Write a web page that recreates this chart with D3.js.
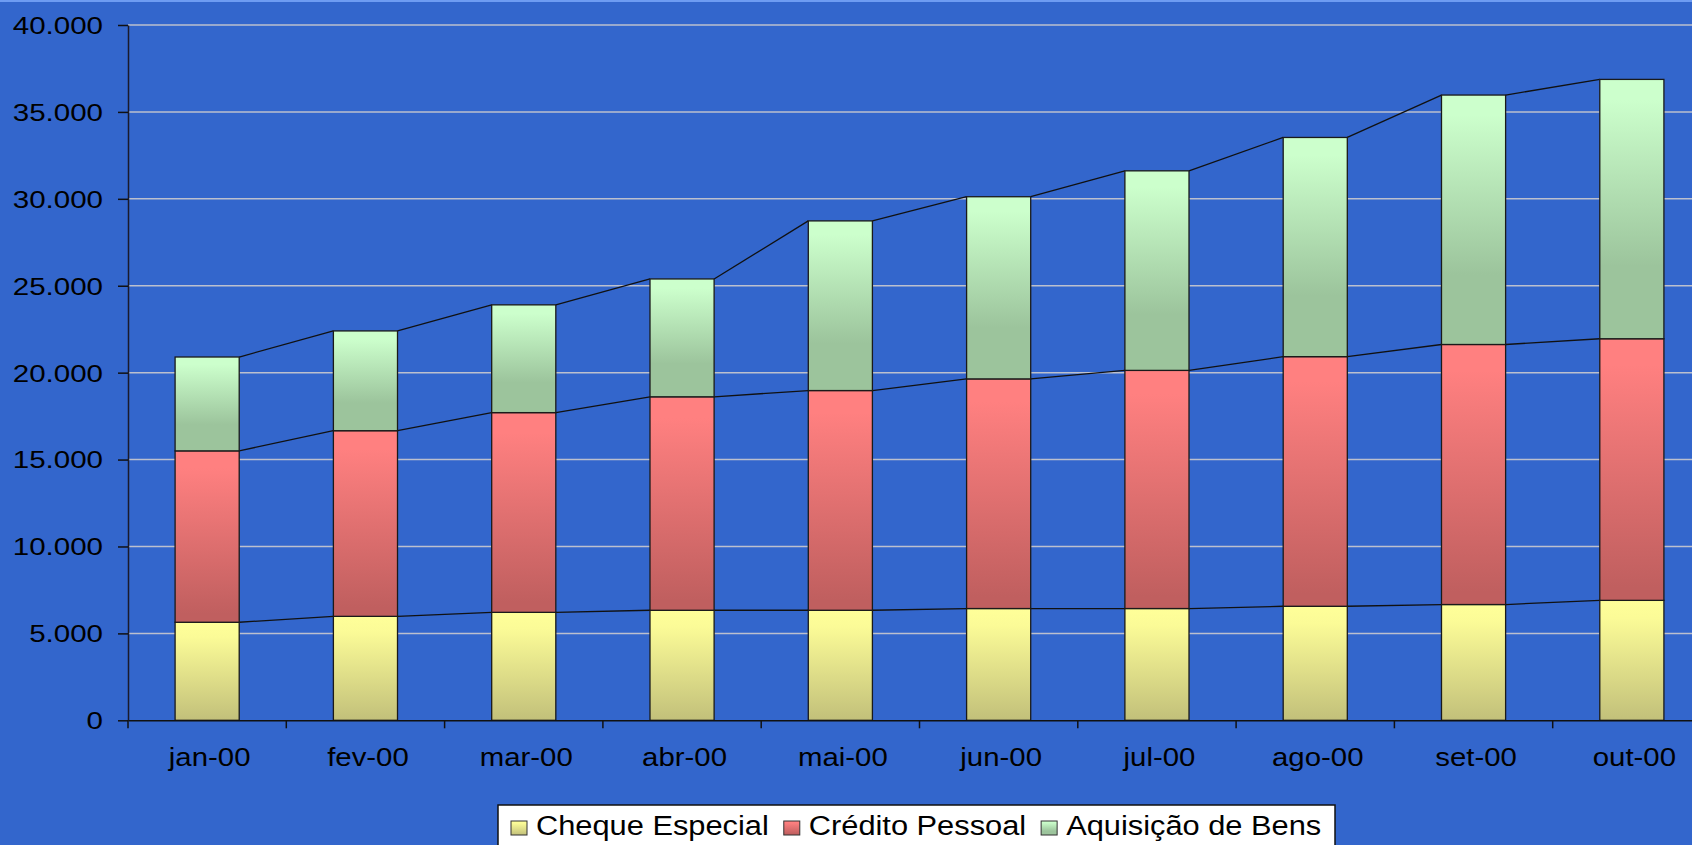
<!DOCTYPE html>
<html>
<head>
<meta charset="utf-8">
<script src="https://cdn.jsdelivr.net/npm/d3@7"></script>
<style>
  html, body { margin: 0; padding: 0; background: #3366CC; overflow: hidden; }
  svg { display: block; }
  text { font-family: "Liberation Sans", Arial, sans-serif; fill: #000; }
</style>
</head>
<body>
<svg id="chart" width="1692" height="845"></svg>
<script>
// ---- data ----
const categories = ["jan-00","fev-00","mar-00","abr-00","mai-00","jun-00","jul-00","ago-00","set-00","out-00"];
const chequeEspecial  = [5640, 5980, 6210, 6330, 6330, 6430, 6430, 6560, 6660, 6900];
const creditoPessoal  = [9860, 10680, 11490, 12280, 12640, 13210, 13700, 14360, 14960, 15050];
const aquisicaoBens   = [5400, 5740, 6200, 6780, 9760, 10480, 11480, 12610, 14350, 14920];
const seriesNames = ["Cheque Especial", "Crédito Pessoal", "Aquisição de Bens"];
const yTicks = [0, 5000, 10000, 15000, 20000, 25000, 30000, 35000, 40000];
const yTickLabels = ["0", "5.000", "10.000", "15.000", "20.000", "25.000", "30.000", "35.000", "40.000"];

// ---- layout ----
const W = 1692, H = 845;
const plotLeft = 128, plotRight = 1711, plotTop = 25, plotBottom = 720.3;
const svg = d3.select("#chart");

// background
svg.append("rect").attr("width", W).attr("height", H).attr("fill", "#3366CC");
svg.append("rect").attr("width", W).attr("height", 2).attr("fill", "#6E9CF2");

// gradients
const defs = svg.append("defs");
const gradStops = [
  [["0", "#FFFF99"], ["0.15", "#FBFB97"], ["1", "#C2C07A"]],
  [["0", "#FF8080"], ["0.1", "#FF8080"], ["0.95", "#C05F5F"], ["1", "#C05F5F"]],
  [["0", "#CCFFCC"], ["0.08", "#CCFFCC"], ["0.72", "#9CC49C"], ["1", "#9CC49C"]]
];
gradStops.forEach((stops, i) => {
  const g = defs.append("linearGradient").attr("id", "g" + i)
    .attr("x1", 0).attr("y1", 0).attr("x2", 0).attr("y2", 1);
  stops.forEach(s => g.append("stop").attr("offset", s[0]).attr("stop-color", s[1]));
});

// scales
const x = d3.scaleBand().domain(categories).range([plotLeft, plotRight]).padding(0);
const y = d3.scaleLinear().domain([0, 40000]).range([plotBottom, plotTop]);
const barW = x.bandwidth() * 0.405;

// gridlines
svg.append("g").selectAll("line").data(yTicks.filter(d => d > 0)).join("line")
  .attr("x1", plotLeft).attr("x2", W)
  .attr("y1", d => y(d)).attr("y2", d => y(d))
  .attr("stroke", "#BCC0CE").attr("stroke-width", 1.5);

// stacked data
const table = categories.map((c, i) => ({
  cat: c, s0: chequeEspecial[i], s1: creditoPessoal[i], s2: aquisicaoBens[i]
}));
const stack = d3.stack().keys(["s0", "s1", "s2"])(table);

// series lines (connecting tops between bars)
stack.forEach(layer => {
  const segs = [];
  for (let i = 0; i < layer.length - 1; i++) {
    segs.push({
      x1: x(categories[i]) + x.bandwidth() / 2 + barW / 2, y1: y(layer[i][1]),
      x2: x(categories[i + 1]) + x.bandwidth() / 2 - barW / 2, y2: y(layer[i + 1][1])
    });
  }
  svg.append("g").selectAll("line").data(segs).join("line")
    .attr("x1", d => d.x1).attr("y1", d => d.y1).attr("x2", d => d.x2).attr("y2", d => d.y2)
    .attr("stroke", "#111").attr("stroke-width", 1.3);
});

// bars
stack.forEach((layer, si) => {
  svg.append("g").selectAll("rect").data(layer).join("rect")
    .attr("x", d => x(d.data.cat) + x.bandwidth() / 2 - barW / 2)
    .attr("y", d => y(d[1]))
    .attr("width", barW)
    .attr("height", d => y(d[0]) - y(d[1]))
    .attr("fill", "url(#g" + si + ")")
    .attr("stroke", "#1a1a1a").attr("stroke-width", 1.3);
});

// y axis
const yAxis = svg.append("g").attr("transform", `translate(${plotLeft},0)`)
  .call(d3.axisLeft(y).tickValues(yTicks).tickFormat((d, i) => yTickLabels[i]).tickSize(10).tickSizeOuter(0));
yAxis.select(".domain").attr("stroke", "#1a1a2a").attr("stroke-width", 1.5);
yAxis.selectAll(".tick line").attr("stroke", "#111").attr("stroke-width", 1.5);
yAxis.selectAll(".tick text")
  .attr("x", -25 / 1.23).attr("dy", "0.35em")
  .attr("transform", "scale(1.23,1)")
  .style("font-size", "24px").style("font-family", "'Liberation Sans', Arial, sans-serif")
  .attr("fill", "#000");

// x axis
const xAxis = svg.append("g").attr("transform", `translate(0,${plotBottom})`)
  .call(d3.axisBottom(x).tickSize(0).tickSizeOuter(0));
xAxis.select(".domain").attr("stroke", "#111").attr("stroke-width", 1.5);
xAxis.selectAll(".tick text")
  .attr("x", 2.5 / 1.13).attr("y", 46).attr("dy", 0)
  .attr("transform", "scale(1.13,1)")
  .style("font-size", "26px").style("font-family", "'Liberation Sans', Arial, sans-serif")
  .attr("fill", "#000");
// category boundary ticks
const bounds = categories.map(c => x(c)).concat([x.range()[1]]);
xAxis.append("g").selectAll("line").data(bounds).join("line")
  .attr("x1", d => d).attr("x2", d => d).attr("y1", 0).attr("y2", 8)
  .attr("stroke", "#111").attr("stroke-width", 1.5);

// legend
const legend = svg.append("g");
legend.append("rect").attr("x", 498).attr("y", 805).attr("width", 837).attr("height", 60)
  .attr("fill", "#fff").attr("stroke", "#111").attr("stroke-width", 1.5);
let lx = 511;
const sx = 1.1;
seriesNames.forEach((name, i) => {
  legend.append("rect").attr("x", lx).attr("y", 821).attr("width", 16).attr("height", 14)
    .attr("fill", "url(#g" + i + ")").attr("stroke", "#333").attr("stroke-width", 1);
  const tx = lx + 16 + 9;
  const t = legend.append("text")
    .attr("transform", `translate(${tx},835) scale(${sx},1)`)
    .style("font-size", "28px")
    .text(name);
  const tw = t.node().getComputedTextLength() * sx;
  lx = tx + tw + 15;
});
</script>
</body>
</html>
